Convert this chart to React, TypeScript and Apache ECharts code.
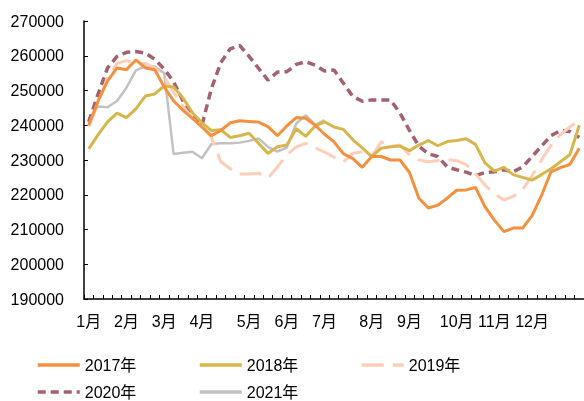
import React, { useEffect, useRef } from "react";
import * as echarts from "echarts";

const weeks = [
  "W1","W2","W3","W4","W5","W6","W7","W8","W9","W10",
  "W11","W12","W13","W14","W15","W16","W17","W18","W19","W20",
  "W21","W22","W23","W24","W25","W26","W27","W28","W29","W30",
  "W31","W32","W33","W34","W35","W36","W37","W38","W39","W40",
  "W41","W42","W43","W44","W45","W46","W47","W48","W49","W50",
  "W51","W52","W53",
];
const monthWeeks = [0, 4, 8, 12, 17, 21, 25, 30, 34, 39, 43, 47];
const monthNames = ["1月", "2月", "3月", "4月", "5月", "6月", "7月", "8月", "9月", "10月", "11月", "12月"];

const s2017 = [
  240000, 247000, 252800, 256500, 256000, 258800, 256500, 256000, 251000, 247000,
  244300, 242000, 239500, 237000, 238500, 240700, 241300, 241100, 240900, 239600,
  237000, 239800, 242200, 242000, 240000, 237400, 235200, 231800, 230400, 227900,
  231000, 231000, 230000, 230000, 226400, 219000, 216200, 217000, 219000, 221300,
  221400, 222100, 216600, 212700, 209400, 210400, 210400, 214000, 219800, 226600,
  227800, 228700, 233400,
];
const s2018 = [
  233200, 237300, 241000, 243500, 242200, 244700, 248400, 249000, 251300, 251000,
  247800, 243600, 240700, 238500, 238700, 236500, 237000, 237700, 234800, 231900,
  233800, 234300, 239000, 236800, 239800, 241000, 239500, 238800, 235800, 233500,
  231000, 233400, 233800, 234000, 232700, 234300, 235600, 234100, 235300, 235600,
  236100, 234500, 229200, 226800, 227900, 225800, 225000, 224200, 225800, 227500,
  229500, 231500, 240000,
];
const s2019 = [
  239600, 246500, 253500, 257800, 258600, 257800, 257800, 256500, 254000, 249500,
  245500, 242000, 239700, 236500, 229500, 227500, 226000, 226000, 226200, 224800,
  228000, 231500, 233800, 234800, 233500, 232300, 230800, 229500, 231900, 232400,
  231000, 235200, 234000, 234300, 231500, 230000, 229500, 229800, 230100, 229800,
  228700, 226000, 222800, 220300, 218500, 219500, 221500, 225500, 230000, 234200,
  237300, 239500, 241500,
];
const s2020 = [
  241000, 249000, 256500, 259800, 261000, 261200, 260800, 259000, 256200, 252500,
  247000, 242500, 240000, 250500, 258000, 262000, 263000, 259800, 256400, 253000,
  255300, 255400, 257500, 258300, 257300, 255600, 255900, 252100, 248300, 246900,
  247300, 247300, 247300, 243500, 238500, 234000, 231800, 231000, 228000, 227200,
  226500, 225500, 226400, 226600, 227200, 226600, 228000, 231000, 234000, 237000,
  238500, 238200, 236500,
];
const s2021 = [
  241800, 245400, 245200, 247000, 250800, 255800, 256900, 256900, 255000, 231700,
  232100, 232400, 230500, 234600, 234800, 234800, 235000, 235500, 236200, 233800,
  232400, 233600, 240500, 242900, 240100, 241500,
];

const seriesNames = ["2017年", "2018年", "2019年", "2020年", "2021年"];
const seriesData = [s2017, s2018, s2019, s2020, s2021];

const FONT = "'Liberation Sans', Arial, 'Noto Sans CJK SC', sans-serif";

export default function App() {
  const ref = useRef<HTMLDivElement>(null);
  useEffect(() => {
    const chart = echarts.init(ref.current!, null, { renderer: "svg" });
    const styles = [
      { color: "#F5913E", width: 3, type: "solid" },
      { color: "#D7B64C", width: 3, type: "solid" },
      { color: "#FFCDB8", width: 3, type: [22, 9] },
      { color: "#A4616F", width: 3.5, type: [8, 5] },
      { color: "#C2C2C2", width: 2.5, type: "solid" },
    ];
    const legendPos = [
      { left: 36, top: 357 },
      { left: 198, top: 357 },
      { left: 360, top: 357 },
      { left: 36, top: 384 },
      { left: 198, top: 384 },
    ];
    chart.setOption({
      animation: false,
      textStyle: { fontFamily: FONT },
      grid: { left: 84, right: 0, top: 21, bottom: 102, containLabel: false },
      legend: seriesNames.map((n, k) => ({
        data: [n],
        left: legendPos[k].left,
        top: legendPos[k].top,
        padding: 0,
        itemWidth: 42,
        itemHeight: 14,
        itemStyle: { opacity: 0, color: "transparent", borderWidth: 0 },
        lineStyle: { width: 3.5 },
        textStyle: { fontSize: 16, color: "#000", fontFamily: FONT },
      })),
      xAxis: {
        type: "category",
        data: weeks,
        boundaryGap: true,
        axisLine: { lineStyle: { color: "#000", width: 1.5 } },
        axisTick: { show: true, interval: 0, inside: true, length: 4, lineStyle: { color: "#000" } },
        axisLabel: {
          interval: (i: number) => monthWeeks.includes(i),
          formatter: (_v: string, i: number) => monthNames[monthWeeks.indexOf(i)] ?? "",
          fontSize: 16,
          color: "#000",
          margin: 14,
          fontFamily: FONT,
        },
        splitLine: { show: false },
      },
      yAxis: {
        type: "value",
        min: 190000,
        max: 270000,
        interval: 10000,
        axisLine: { show: true, lineStyle: { color: "#000", width: 1.5 } },
        axisTick: { show: true, inside: true, length: 4, lineStyle: { color: "#000" } },
        axisLabel: {
          fontSize: 16,
          color: "#000",
          margin: 20,
          fontFamily: FONT,
          formatter: (v: number) => String(v),
        },
        splitLine: { show: false },
      },
      series: seriesNames.map((n, k) => ({
        name: n,
        type: "line",
        data: seriesData[k],
        symbol: "none",
        showSymbol: false,
        lineStyle: { ...styles[k], cap: "butt" },
        itemStyle: { color: styles[k].color },
        z: 10 - k,
      })),
    });
    return () => chart.dispose();
  }, []);
  return <div ref={ref} style={{ position: "fixed", left: 0, top: 0, width: 584, height: 401 }} />;
}
